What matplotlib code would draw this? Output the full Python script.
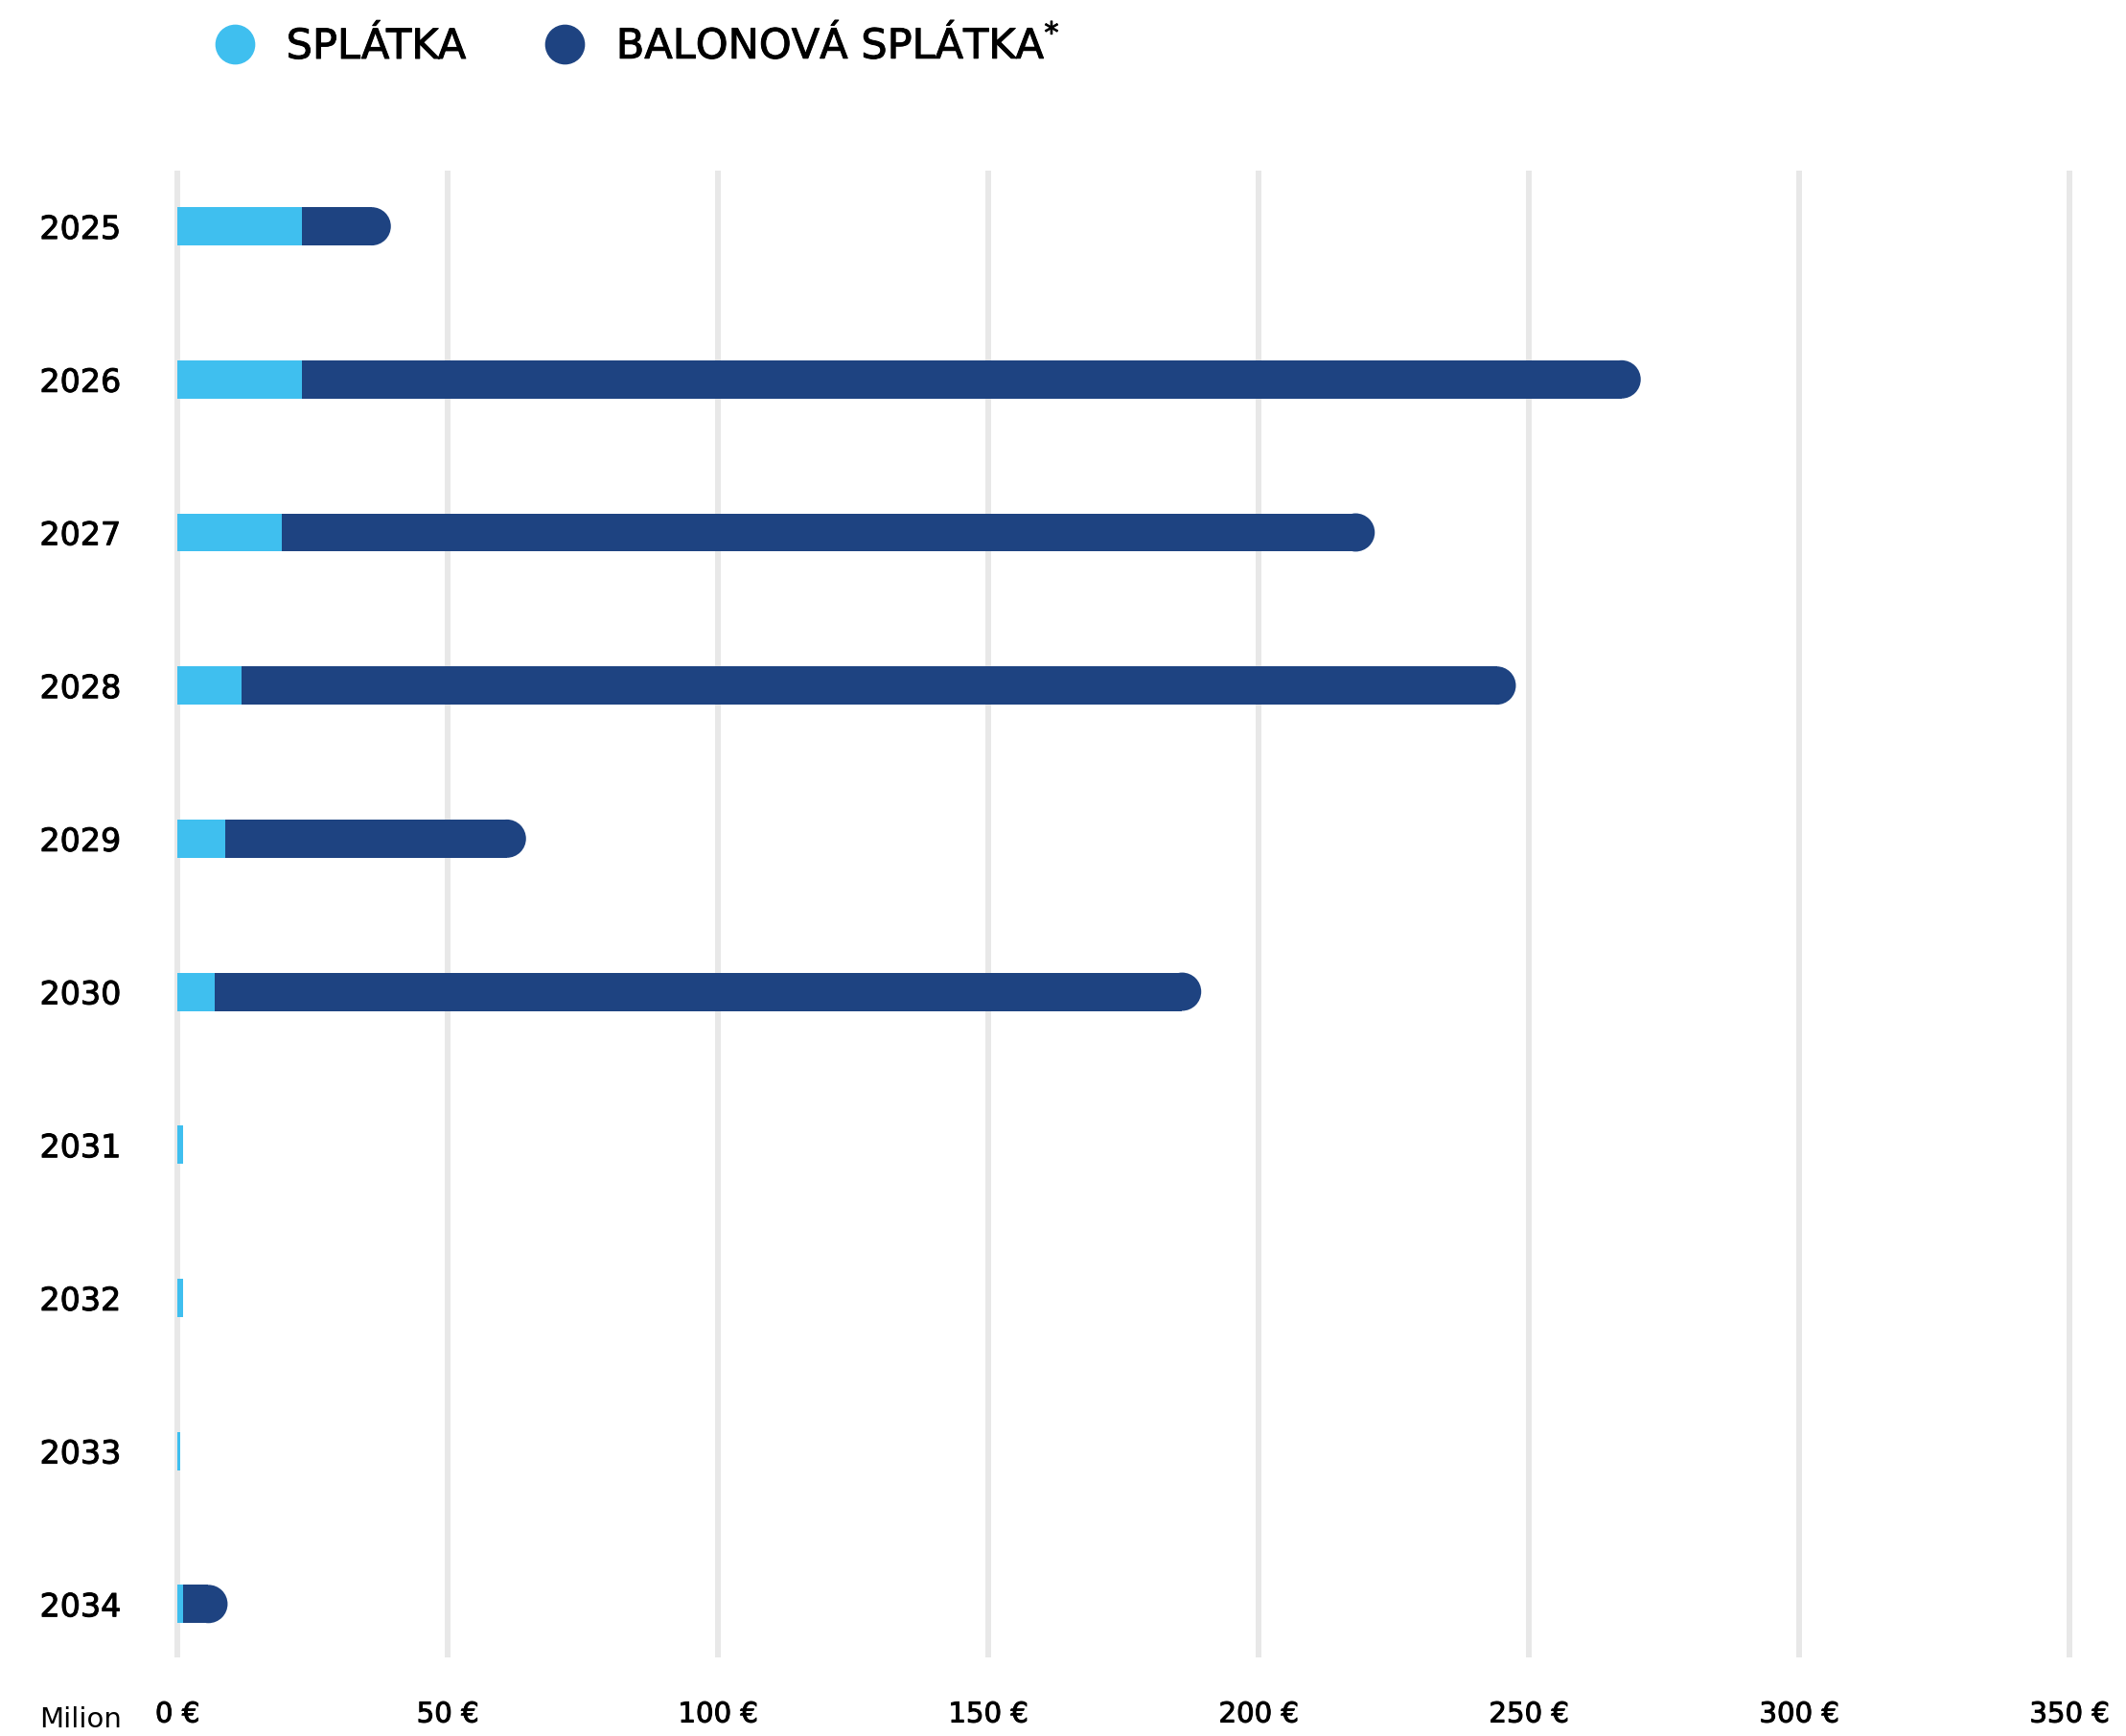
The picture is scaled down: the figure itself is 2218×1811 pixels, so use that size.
import matplotlib.pyplot as plt
import matplotlib.patheffects as pe
from matplotlib.patches import Ellipse
from matplotlib.lines import Line2D

years = ['2025', '2026', '2027', '2028', '2029', '2030', '2031', '2032', '2033', '2034']
splatka = [23.0, 23.0, 19.3, 11.8, 8.8, 7.0, 1.0, 1.0, 0.5, 1.0]
balonova = [16.5, 247.7, 202.2, 235.8, 55.7, 182.4, 0.0, 0.0, 0.0, 8.3]
xticks = [0, 50, 100, 150, 200, 250, 300, 350]
xlabels = ['%d €' % v for v in xticks]

LIGHT = '#3fbfef'
DARK = '#1e4381'
GRID = '#e8e8e8'

plt.rcParams['font.family'] = ['DejaVu Sans']

# thicken regular text a bit to look like a medium weight
medium = [pe.withStroke(linewidth=0.7, foreground='black')]

W, H, DPI = 22.18, 18.11, 100
fig = plt.figure(figsize=(W, H), dpi=DPI)
pos = [185 / 2218, 1 - 1726 / 1811, (2159 - 185) / 2218, (1726 - 181) / 1811]
ax = fig.add_axes(pos)

ylo, yhi = -0.345, 9.33
xmax = 350
bar_h = 0.25

ax.set_xlim(0, xmax)
ax.set_ylim(yhi, ylo)

for v in xticks:
    ax.axvline(v, color=GRID, lw=4.3, zorder=0, clip_on=False)

# radius of the rounded end, in x data units
ax_w_px = pos[2] * W * DPI
ax_h_px = pos[3] * H * DPI
r_px = bar_h * ax_h_px / (yhi - ylo) / 2
r = r_px * xmax / ax_w_px

ypos = list(range(len(years)))
ax.barh(ypos, splatka, height=bar_h, color=LIGHT, zorder=3)
for i, (a, b) in enumerate(zip(splatka, balonova)):
    if b <= 0:
        continue
    ax.barh(i, b - r, left=a, height=bar_h, color=DARK, zorder=2)
    ax.add_patch(Ellipse((a + b - r, i), 2 * r, bar_h, color=DARK, zorder=2, lw=0))

ax.set_yticks(ypos)
ax.set_yticklabels(years, fontsize=24)
ax.set_xticks(xticks)
ax.set_xticklabels(xlabels, fontsize=21)
ax.tick_params(axis='y', length=0, pad=42)
ax.tick_params(axis='x', length=0, pad=35)
for lab in ax.get_yticklabels() + ax.get_xticklabels():
    lab.set_path_effects(medium)
for s in ax.spines.values():
    s.set_visible(False)

fig.text(127 / 2218, 1 - 1808 / 1811, 'Milion', fontsize=21, ha='right', va='bottom')

handles = [Line2D([], [], ls='', marker='o', ms=29, color=LIGHT),
           Line2D([], [], ls='', marker='o', ms=29, color=DARK)]
leg = fig.legend(handles, ['SPLÁTKA', 'BALONOVÁ SPLÁTKA$^{*}$'], loc='center left',
                 bbox_to_anchor=(185 / 2218, 1 - 48 / 1811), ncol=2, frameon=False,
                 prop={'size': 31}, handletextpad=0.74,
                 columnspacing=1.9, handlelength=1.0)
for t in leg.get_texts():
    t.set_path_effects(medium)

fig.savefig('out.png', dpi=DPI)
